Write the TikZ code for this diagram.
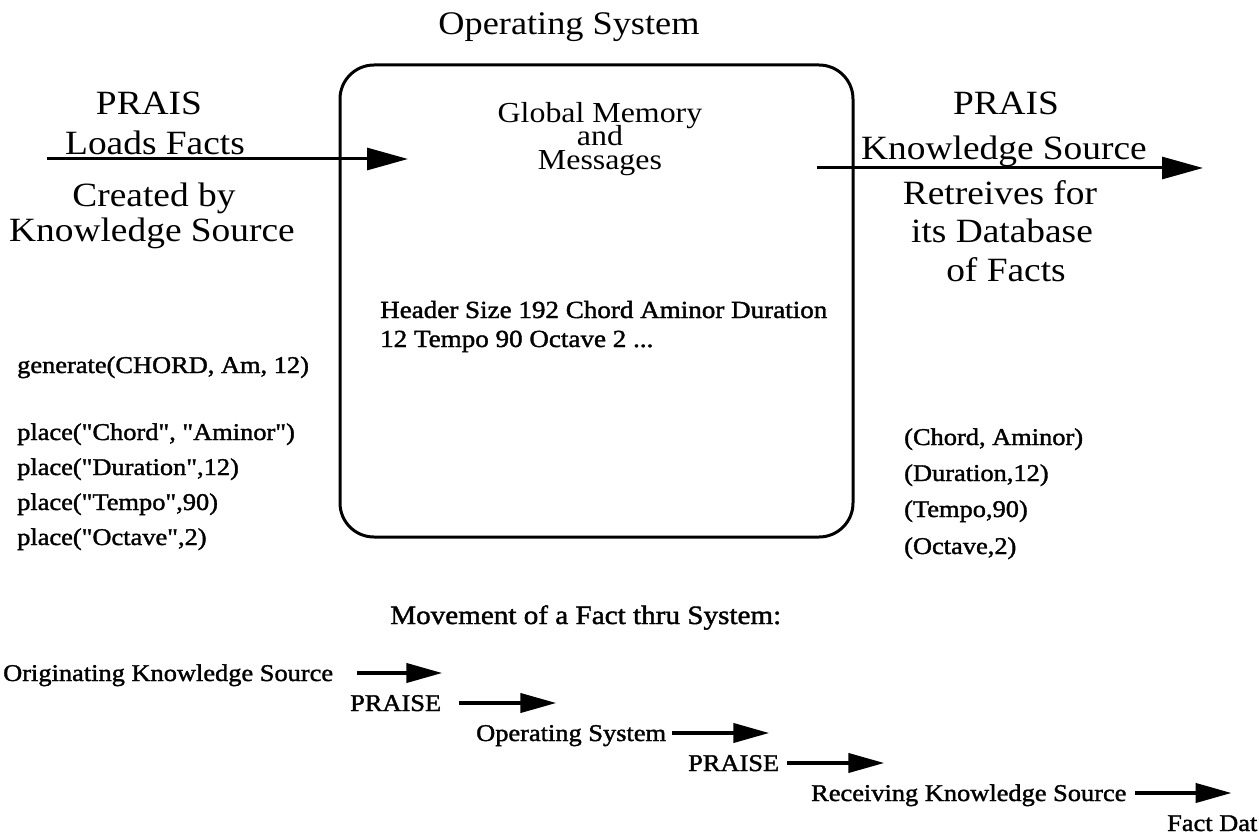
\documentclass[tikz,border=0pt]{standalone}
\usepackage{fontspec}
\setmainfont{Liberation Serif}[FakeStretch=1.1]
\newfontfamily\codefont{Liberation Serif}[FakeStretch=1.1,FakeBold=1.5]
\usetikzlibrary{arrows.meta}
\newcommand\mytightlines{\lineskiplimit=-100pt\relax}
\begin{document}
\begin{tikzpicture}[x=1pt,y=-1pt,
  ttl/.style={font=\fontsize{33}{36}\selectfont, inner sep=0pt, anchor=base},
  big/.style={font=\fontsize{34}{36}\selectfont, inner sep=0pt, anchor=base},
  mid/.style={font={\fontsize{29}{23.5}\selectfont\mytightlines}, inner sep=0pt, align=center},
  code/.style={font=\codefont\fontsize{24}{26}\selectfont, inner sep=0pt, anchor=base west},
  hdr/.style={font=\codefont\fontsize{24.6}{27}\selectfont, inner sep=0pt, anchor=base west},
  mvt/.style={font=\codefont\fontsize{26.5}{28}\selectfont, inner sep=0pt, anchor=base west},
  bigarrow/.style={line width=3pt, -{Triangle[length=41pt,width=22pt]}},
  smallarrow/.style={line width=4pt, -{Triangle[length=36pt,width=19pt]}},
  box/.style={draw, line width=3pt, rounded corners=34pt, inner sep=0pt}
]
\useasboundingbox (0,0) rectangle (1259,837);
% title and box
\node[ttl] (title) at (569,35) {Operating System};
\node[box, minimum width=513pt, minimum height=472pt] (os) at (596.5,301) {};
\node[mid] (gm) at (600,139) {Global Memory\\and\\Messages};
\node[hdr] (hd1) at (380,318) {Header Size 192 Chord Aminor Duration};
\node[hdr] (hd2) at (380,347) {12 Tempo 90 Octave 2 ...};
% left labels
\node[big] (lp) at (149,115) {PRAIS};
\node[big] (ll) at (155,155) {Loads Facts};
\node[big] (lc) at (154,207) {Created by};
\node[big] (lk) at (152,242) {Knowledge Source};
\coordinate (la) at (47,159);
\coordinate (lb) at (408,159);
\draw[bigarrow] (la) -- (lb);
% right labels
\node[big] (rp) at (1006,115) {PRAIS};
\node[big] (rk) at (1004,160) {Knowledge Source};
\node[big] (rr) at (1000,205) {Retreives for};
\node[big] (rd) at (1002,243) {its Database};
\node[big] (rf) at (1006,282) {of Facts};
\coordinate (ra) at (817,168);
\coordinate (rb) at (1203,168);
\draw[bigarrow] (ra) -- (rb);
% left code
\node[code] (gen) at (17,373) {generate(CHORD, Am, 12)};
\node[code] (p1) at (17,440) {place("Chord", "Aminor")};
\node[code] (p2) at (17,475) {place("Duration",12)};
\node[code] (p3) at (17,510) {place("Tempo",90)};
\node[code] (p4) at (17,545) {place("Octave",2)};
% right tuples
\node[code] (t1) at (904,445) {(Chord, Aminor)};
\node[code] (t2) at (904,481) {(Duration,12)};
\node[code] (t3) at (904,517) {(Tempo,90)};
\node[code] (t4) at (904,554) {(Octave,2)};
% movement chain
\node[mvt] (mv) at (390,624) {Movement of a Fact thru System:};
\node[code] (c1) at (3,681) {Originating Knowledge Source};
\node[code] (c2) at (350,711) {PRAISE};
\node[code] (c3) at (476,741) {Operating System};
\node[code] (c4) at (688,771) {PRAISE};
\node[code] (c5) at (811,801) {Receiving Knowledge Source};
\node[code] (c6) at (1167,831) {Fact Dat};
\draw[smallarrow] ([xshift=24pt]c1.east |- 0,673) -- ++(85,0);
\draw[smallarrow] ([xshift=18pt]c2.east |- 0,703) -- ++(97,0);
\draw[smallarrow] ([xshift=6pt]c3.east |- 0,733) -- ++(97,0);
\draw[smallarrow] ([xshift=8pt]c4.east |- 0,763) -- ++(97,0);
\draw[smallarrow] ([xshift=8pt]c5.east |- 0,793) -- ++(97,0);
\end{tikzpicture}
\end{document}
